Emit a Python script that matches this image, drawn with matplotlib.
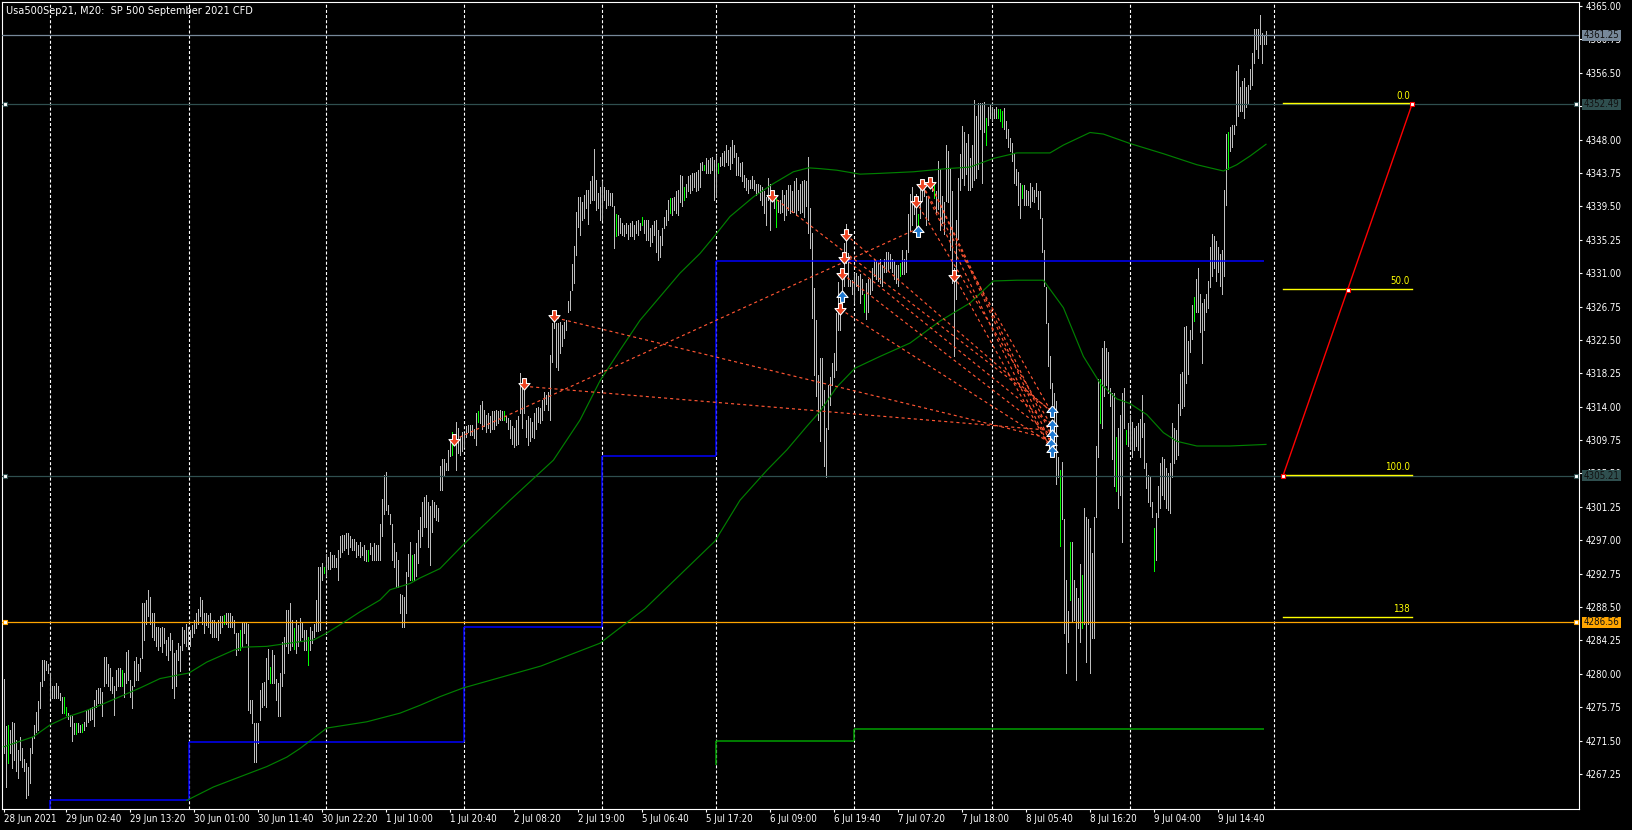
import matplotlib
matplotlib.use("Agg")
import matplotlib.pyplot as plt
from matplotlib.path import Path
from matplotlib.patches import Rectangle
from matplotlib.transforms import blended_transform_factory
from matplotlib import font_manager as fm
import numpy as np

# ---------------- data ----------------
TITLE = "Usa500Sep21, M20:  SP 500 September 2021 CFD"

bar_high = [
4279.4,4273.3,4273.5,4272.8,4273.9,4273.7,4271.6,4270.3,4272.0,4270.5,
4269.2,4268.6,4268.2,4270.5,4272.0,4273.5,4275.2,4276.5,4279.0,4281.8,
4281.8,4281.6,4281.3,4280.1,4278.4,4278.4,4278.8,4278.4,4277.5,4277.1,
4277.1,4275.8,4275.0,4274.8,4274.6,4273.7,4273.7,4273.7,4273.5,4273.6,
4273.9,4275.4,4275.4,4275.6,4275.8,4276.7,4277.9,4278.2,4278.2,4277.7,
4282.2,4282.2,4281.3,4280.7,4279.6,4278.4,4280.5,4280.7,4280.7,4280.5,
4280.1,4282.8,4283.0,4279.2,4278.4,4281.6,4282.2,4281.3,4282.0,4289.0,
4289.0,4289.4,4290.7,4289.8,4287.7,4287.7,4286.0,4286.0,4285.8,4286.0,
4285.8,4284.3,4284.7,4285.2,4284.3,4282.6,4283.0,4283.9,4283.5,4286.0,
4285.6,4286.4,4286.0,4285.6,4286.2,4286.9,4287.7,4288.3,4289.8,4289.4,
4287.7,4287.7,4287.5,4287.7,4286.9,4286.9,4286.6,4286.9,4287.3,4287.3,
4287.5,4287.7,4287.7,4287.7,4287.3,4286.9,4285.2,4285.2,4285.6,4286.6,
4286.6,4286.6,4286.4,4276.7,4276.7,4273.7,4273.7,4273.7,4277.9,4278.8,
4279.0,4282.0,4283.2,4280.9,4283.0,4282.4,4279.4,4278.8,4280.1,4284.1,
4284.7,4288.1,4288.1,4289.0,4286.9,4285.8,4286.9,4286.2,4287.1,4286.6,
4285.6,4285.6,4284.7,4286.0,4285.4,4286.4,4289.4,4293.6,4293.6,4294.1,
4293.6,4295.3,4294.9,4295.5,4295.1,4295.1,4294.7,4295.8,4297.5,4297.7,
4297.7,4297.9,4297.9,4297.5,4297.2,4297.2,4296.8,4296.4,4296.8,4296.2,
4296.4,4295.8,4295.8,4296.6,4296.2,4296.6,4296.4,4296.4,4299.1,4302.3,
4305.3,4305.7,4301.5,4300.4,4299.1,4296.6,4295.5,4294.5,4290.2,4290.0,
4289.8,4293.0,4295.3,4296.8,4295.1,4295.3,4296.6,4298.3,4300.0,4301.9,
4302.5,4302.8,4301.9,4301.3,4302.1,4301.9,4301.5,4301.1,4306.4,4307.4,
4307.4,4306.8,4308.5,4309.8,4310.8,4310.0,4312.1,4311.3,4310.2,4310.8,
4310.6,4311.5,4311.7,4311.7,4311.7,4311.1,4313.2,4313.4,4314.2,4314.7,
4313.6,4313.0,4313.2,4312.8,4313.4,4313.4,4313.6,4313.4,4313.6,4313.4,
4313.4,4312.8,4312.5,4312.3,4311.5,4311.3,4312.3,4312.8,4318.3,4317.0,
4317.0,4312.3,4312.8,4312.5,4312.1,4313.2,4313.8,4314.0,4313.8,4314.9,
4315.9,4315.5,4315.9,4320.6,4324.6,4325.5,4324.6,4324.6,4324.8,4324.4,
4324.8,4325.0,4327.4,4328.7,4332.1,4334.4,4338.8,4340.7,4340.7,4340.1,
4341.0,4341.6,4341.6,4342.7,4343.3,4346.8,4342.9,4341.2,4342.0,4342.7,
4342.0,4341.6,4341.6,4341.2,4341.2,4339.5,4338.5,4338.4,4338.0,4337.4,
4337.1,4337.4,4337.1,4337.4,4337.6,4337.1,4337.6,4337.8,4337.4,4338.2,
4337.8,4337.8,4337.8,4336.7,4337.1,4337.6,4337.8,4336.5,4335.7,4336.7,
4338.2,4339.0,4340.3,4340.5,4340.5,4340.7,4341.4,4341.6,4343.5,4343.3,
4342.0,4342.4,4343.3,4343.5,4343.7,4343.7,4343.9,4344.1,4345.0,4345.2,
4344.8,4345.6,4345.4,4345.6,4345.8,4345.4,4346.0,4345.0,4345.8,4346.3,
4346.5,4347.3,4346.7,4347.1,4348.0,4347.3,4346.3,4345.8,4345.0,4345.2,
4343.5,4343.1,4342.9,4342.9,4343.3,4342.9,4342.4,4342.4,4342.2,4342.0,
4341.4,4340.7,4343.1,4342.4,4341.4,4341.0,4341.0,4340.3,4340.3,4341.6,
4341.0,4341.6,4342.2,4342.2,4341.4,4342.7,4343.1,4341.6,4342.4,4342.7,
4342.9,4342.7,4345.8,4339.3,4336.1,4329.1,4325.0,4318.0,4320.2,4320.2,
4316.1,4311.3,4316.8,4317.8,4319.5,4320.8,4325.9,4329.9,4326.3,4330.1,
4334.8,4337.3,4333.5,4330.1,4330.1,4331.0,4331.0,4330.6,4330.9,4330.3,
4328.3,4329.7,4330.3,4330.3,4331.7,4332.8,4332.6,4332.3,4332.8,4332.0,
4332.8,4333.7,4333.7,4333.4,4332.8,4332.6,4332.0,4332.0,4332.3,4334.0,
4332.8,4334.0,4338.5,4341.1,4341.9,4340.8,4341.1,4338.5,4342.5,4342.5,
4342.5,4340.8,4340.5,4343.1,4342.5,4342.5,4341.4,4345.3,4344.2,4340.8,
4340.0,4347.3,4346.5,4344.2,4341.4,4331.7,4337.7,4343.1,4346.2,4349.7,
4349.0,4347.6,4348.7,4345.6,4347.3,4353.0,4351.0,4352.7,4352.7,4352.7,
4352.8,4350.7,4352.1,4352.4,4352.1,4351.9,4352.1,4351.9,4351.9,4351.6,
4352.0,4350.4,4349.3,4348.2,4347.6,4346.2,4344.2,4343.9,4342.5,4342.2,
4342.2,4341.6,4341.4,4342.5,4341.9,4341.6,4342.5,4341.4,4341.4,4338.0,
4334.0,4329.2,4324.6,4320.4,4317.0,4315.8,4314.7,4307.6,4305.9,4307.0,
4299.7,4292.0,4288.0,4296.8,4296.8,4292.0,4290.9,4289.7,4294.0,4292.6,
4301.1,4300.0,4299.7,4298.5,4295.4,4300.0,4309.0,4317.5,4317.5,4321.5,
4322.4,4321.5,4321.0,4316.4,4315.8,4315.8,4310.2,4311.3,4313.0,4315.8,
4316.4,4311.0,4311.9,4313.0,4312.1,4311.3,4311.6,4311.9,4312.4,4315.5,
4311.9,4306.8,4305.3,4305.0,4301.9,4298.5,4300.5,4303.9,4306.8,4307.6,
4307.3,4306.2,4305.6,4306.8,4311.9,4311.3,4311.0,4314.4,4318.1,4318.4,
4324.1,4324.3,4322.4,4323.8,4326.9,4328.0,4330.3,4331.7,4328.3,4327.2,
4327.7,4328.3,4330.0,4334.3,4336.0,4335.7,4335.1,4334.3,4333.4,4334.0,
4341.6,4348.7,4349.0,4349.6,4349.9,4349.9,4356.7,4357.5,4354.7,4355.5,
4355.8,4354.7,4355.0,4357.0,4359.0,4362.1,4362.1,4362.1,4363.8,4361.5,
4361.2,4361.8]

bar_low = [
4269.9,4265.6,4268.6,4269.9,4268.0,4269.0,4267.6,4266.7,4269.0,4268.2,
4267.6,4264.2,4264.6,4266.1,4269.9,4271.8,4272.6,4272.8,4275.6,4278.4,
4279.2,4280.5,4280.1,4276.9,4276.9,4276.9,4276.9,4276.9,4276.7,4275.0,
4275.0,4274.8,4274.3,4273.3,4271.4,4272.4,4272.4,4272.6,4272.6,4272.6,
4272.8,4273.3,4273.9,4274.1,4274.3,4273.3,4275.8,4276.3,4276.3,4274.6,
4278.4,4278.8,4278.4,4278.0,4277.5,4274.8,4278.0,4278.4,4278.4,4278.4,
4277.1,4278.8,4279.2,4277.1,4275.6,4278.4,4279.2,4279.2,4280.3,4282.0,
4284.3,4286.4,4287.3,4286.4,4284.7,4284.3,4283.5,4283.0,4283.5,4282.8,
4283.9,4282.4,4281.8,4283.0,4278.2,4276.9,4278.4,4281.8,4280.3,4283.0,
4283.9,4283.5,4283.2,4283.5,4284.7,4285.2,4285.8,4286.4,4287.3,4286.4,
4285.2,4286.2,4286.0,4285.2,4284.7,4284.7,4284.7,4284.3,4285.2,4286.0,
4286.4,4286.4,4286.0,4286.0,4286.0,4285.2,4282.4,4283.0,4283.0,4283.5,
4285.2,4283.9,4275.4,4275.0,4273.7,4268.8,4268.8,4271.2,4274.1,4275.8,
4276.0,4275.8,4279.4,4278.8,4278.8,4278.8,4276.7,4274.6,4274.6,4278.4,
4280.1,4283.5,4282.6,4283.0,4283.5,4283.2,4282.6,4283.5,4284.3,4284.7,
4283.0,4283.0,4281.1,4283.0,4283.9,4284.7,4285.4,4285.4,4285.6,4291.9,
4292.8,4292.4,4293.4,4293.4,4293.6,4293.6,4293.6,4291.9,4294.9,4295.5,
4295.8,4296.0,4295.3,4296.2,4295.8,4295.8,4294.9,4295.1,4294.9,4295.1,
4294.5,4294.3,4294.3,4295.3,4294.5,4294.5,4294.5,4294.5,4294.5,4297.5,
4300.4,4300.8,4300.4,4299.1,4294.5,4293.6,4291.1,4291.1,4287.7,4286.0,
4286.0,4287.7,4292.4,4291.9,4291.9,4291.9,4292.4,4294.1,4296.2,4297.5,
4298.7,4298.7,4296.2,4293.9,4298.1,4300.0,4299.6,4299.4,4303.4,4303.4,
4305.3,4306.0,4306.0,4307.7,4307.9,4309.1,4306.0,4308.1,4307.9,4308.3,
4308.9,4310.2,4310.8,4310.4,4310.4,4310.0,4309.1,4312.1,4311.9,4311.1,
4311.5,4310.8,4311.3,4310.8,4311.1,4311.1,4311.7,4311.9,4312.3,4312.3,
4312.3,4312.1,4311.1,4310.0,4309.3,4308.9,4309.1,4309.3,4313.2,4311.3,
4313.2,4310.2,4309.1,4309.6,4310.2,4310.0,4311.1,4312.1,4311.9,4312.3,
4313.6,4314.4,4313.6,4312.3,4319.7,4324.0,4319.1,4318.7,4320.8,4321.7,
4322.7,4323.8,4326.1,4326.3,4328.9,4329.7,4333.3,4336.9,4335.9,4337.8,
4338.0,4339.3,4337.3,4339.9,4340.3,4340.3,4339.0,4339.3,4337.8,4337.8,
4340.3,4339.3,4339.7,4339.7,4339.5,4334.2,4335.7,4335.9,4336.1,4335.9,
4335.7,4336.1,4335.4,4335.7,4335.7,4335.4,4336.1,4335.9,4336.5,4337.1,
4336.1,4335.2,4335.2,4334.4,4335.0,4335.9,4333.7,4332.7,4333.1,4334.6,
4336.7,4337.1,4337.8,4338.6,4338.4,4339.0,4338.6,4338.4,4340.1,4339.5,
4340.3,4340.7,4341.4,4341.2,4341.6,4342.0,4341.4,4341.6,4342.0,4344.1,
4344.1,4343.7,4343.7,4343.7,4344.1,4340.3,4340.7,4343.7,4344.6,4344.8,
4344.6,4345.2,4344.8,4344.3,4345.0,4345.8,4343.5,4343.5,4343.3,4342.7,
4342.0,4341.6,4341.2,4341.8,4341.8,4341.6,4341.0,4341.2,4340.3,4339.7,
4338.6,4337.1,4340.3,4336.5,4340.3,4339.3,4336.9,4338.8,4338.6,4338.8,
4337.8,4338.4,4339.0,4338.6,4338.8,4338.8,4338.4,4339.0,4338.6,4338.8,
4338.2,4339.5,4336.1,4334.2,4325.3,4318.0,4315.3,4312.3,4309.6,4314.2,
4306.4,4305.1,4311.1,4314.2,4316.8,4317.8,4318.7,4323.8,4323.8,4327.4,
4329.3,4332.3,4329.3,4329.3,4328.4,4327.2,4329.3,4328.9,4327.2,4328.3,
4326.0,4325.2,4326.0,4328.3,4328.9,4330.6,4330.3,4330.0,4329.7,4329.4,
4331.2,4331.2,4331.4,4331.7,4331.2,4330.3,4329.7,4329.4,4330.6,4330.9,
4330.9,4331.2,4333.7,4336.3,4337.1,4338.5,4336.8,4336.8,4338.0,4340.2,
4340.8,4337.1,4337.7,4342.2,4341.4,4340.5,4338.8,4339.1,4336.5,4337.4,
4336.0,4340.2,4340.0,4334.0,4329.7,4320.4,4327.7,4335.4,4341.6,4343.1,
4342.2,4343.6,4341.6,4341.6,4341.9,4342.8,4343.1,4344.2,4349.3,4342.5,
4349.0,4347.3,4349.9,4350.7,4350.4,4350.7,4350.7,4350.7,4350.4,4349.6,
4349.3,4348.2,4347.0,4346.5,4345.3,4342.5,4342.2,4339.7,4338.0,4340.5,
4339.7,4339.7,4339.7,4339.4,4340.2,4340.0,4340.8,4339.1,4338.0,4333.7,
4329.4,4324.6,4319.2,4316.4,4314.4,4309.0,4304.2,4305.0,4296.3,4299.7,
4285.2,4280.1,4284.1,4289.4,4286.6,4286.9,4279.2,4285.8,4284.1,4285.8,
4286.3,4281.5,4286.3,4280.1,4284.6,4284.6,4300.0,4307.6,4311.9,4311.3,
4315.3,4316.7,4315.8,4314.1,4307.3,4303.9,4303.3,4301.1,4302.8,4296.8,
4311.3,4309.3,4309.0,4308.7,4307.6,4308.5,4309.0,4308.5,4307.6,4310.2,
4306.2,4303.6,4301.9,4301.4,4299.9,4293.1,4294.5,4299.9,4301.1,4302.8,
4302.2,4301.1,4300.8,4300.5,4305.0,4306.8,4307.3,4307.9,4313.0,4313.8,
4314.1,4317.0,4318.1,4321.0,4322.6,4324.9,4326.0,4326.0,4323.5,4319.5,
4323.8,4326.0,4326.6,4329.2,4330.6,4331.7,4330.0,4331.2,4329.4,4328.3,
4330.6,4339.7,4344.2,4346.5,4347.0,4348.7,4349.9,4351.0,4351.6,4351.6,
4350.7,4352.1,4352.7,4354.4,4355.0,4357.8,4359.5,4358.4,4360.1,4357.8,
4360.1,4360.1]

green_bars = [2, 30, 31, 36, 39, 59, 110, 118, 133, 145, 152, 160, 182, 204,
              224, 237, 250, 306, 319, 333, 340, 350, 357, 386, 430, 448, 457,
              465, 491, 497, 498, 499, 509, 528, 533, 539, 548, 556, 561, 575,
              595, 612]

# moving averages (bar index, price)
ma_fast_bar = [-0.3, 14.7, 23, 31.4, 39.7, 48, 58, 68, 78, 88, 92.4, 101.4, 114.7,
               119.7, 131.4, 139.7, 148, 154.7, 161.4, 171.4, 178, 188, 193, 203,
               208, 218, 229.5, 253, 274.7, 288, 298, 308, 318, 328, 338, 348,
               355.5, 363, 374.7, 384.7, 394.7, 402.2, 408, 416.4, 428, 438,
               454.7, 471.4, 483, 494.7, 506.4, 523, 529.7, 543, 549.7, 563,
               579.7, 596.4, 609.7, 616.4, 623, 631]
ma_fast_val = [4270.7, 4272.0, 4273.5, 4274.5, 4275.2, 4276.0, 4277.1, 4278.2,
               4279.4, 4279.9, 4280.1, 4281.5, 4283.0, 4283.4, 4283.5, 4283.8,
               4284.1, 4284.3, 4285.2, 4286.8, 4287.9, 4289.4, 4290.7, 4291.5,
               4292.2, 4293.4, 4296.4, 4302.1, 4307.2, 4312.3, 4317.3, 4321.2,
               4325.0, 4328.0, 4331.0, 4333.5, 4335.8, 4338.2, 4340.7, 4342.4,
               4343.9, 4344.4, 4344.3, 4344.1, 4343.6, 4343.7, 4343.9, 4344.3,
               4344.5, 4345.6, 4346.3, 4346.3, 4347.3, 4348.9, 4348.7, 4347.5,
               4346.2, 4344.8, 4344.0, 4344.8, 4345.9, 4347.4]
ma_slow_bar = [91.4, 104.7, 118, 131.4, 141.4, 148, 154.7, 161.4, 181.4, 198, 208,
               218, 229.5, 268.5, 298, 320.5, 355.5, 368, 381.4, 391.4, 401.4,
               408, 416.4, 425.5, 438, 453, 468, 483, 494.7, 506.4, 519.7, 529.7,
               539.7, 548, 556.4, 563, 571.4, 579.7, 586.4, 596.4, 613, 631]
ma_slow_val = [4263.9, 4265.6, 4266.9, 4268.2, 4269.4, 4270.5, 4271.8, 4273.1,
               4273.9, 4275.0, 4276.0, 4277.1, 4278.2, 4281.0, 4283.9, 4288.3,
               4296.9, 4302.1, 4305.9, 4308.5, 4311.5, 4313.4, 4316.5, 4318.9,
               4320.4, 4322.1, 4324.9, 4327.2, 4330.0, 4330.1, 4330.1, 4326.6,
               4320.4, 4317.0, 4315.0, 4314.4, 4313.0, 4310.7, 4309.6, 4309.0,
               4309.0, 4309.2]

# daily level step lines
blue_start = [23.2, 92.3, 230.2, 299.2, 356.2]
blue_end = [92.3, 230.2, 299.2, 356.2, 630]
blue_price = [4264.0, 4271.3, 4285.9, 4307.7, 4332.5]
green_start = [356.2, 425.2]
green_end = [425.2, 630]
green_price = [4271.5, 4273.0]
green_first_from = 4268.4

# day separators (bar positions)
day_sep = [23.2, 92.3, 161.2, 230.2, 299.2, 356.2, 425.2, 494.2, 563.2, 635.2]

# horizontal price lines
bid_price = 4361.25
hline_prices = [4352.49, 4305.21, 4286.56]
hline_colors = ['#2F4F4F', '#2F4F4F', '#FFA500']

# signal arrows (bar, price)
down_bar = [225, 260.2, 275.2, 384.2, 421, 420.2, 419.2, 418.2, 456, 459.2, 463, 475.2]
down_val = [4309.8, 4316.9, 4325.5, 4340.8, 4335.8, 4332.9, 4330.9, 4326.4,
            4340.1, 4342.2, 4342.5, 4330.6]
up_bar = [419.2, 457.2, 523.9, 523.9, 523.9, 523.4, 524.2]
up_val = [4328.1, 4336.4, 4313.5, 4311.7, 4310.4, 4309.3, 4308.4]

# dashed signal lines (bar0, price0, bar1, price1)
tl_b0 = [260, 276, 225, 384, 421, 420.2, 419.2, 418.2, 456, 459.2, 463, 463, 475.2, 459.2]
tl_p0 = [4316.6, 4325.3, 4309.8, 4340.8, 4335.9, 4332.9, 4330.9, 4326.4, 4340.1,
         4342.2, 4342.5, 4342.5, 4330.6, 4342.2]
tl_b1 = [523, 523.5, 457, 523, 523.5, 523.5, 523.5, 523.5, 523.5, 523.5, 523.5,
         523.5, 523.5, 523.5]
tl_p1 = [4311.0, 4309.9, 4336.7, 4313.6, 4313.4, 4311.7, 4310.4, 4309.3, 4311.7,
         4313.4, 4310.4, 4309.3, 4308.5, 4308.5]

# fibonacci retracement
fib_bar0 = 639.5
fib_bar1 = 704
fib_p100 = 4305.21
fib_p0 = 4352.49
fib_levels = [0.0, 50.0, 100.0, 138.2]
fib_labels = ['0.0', '50.0', '100.0', '138']

# axes
x_tick_bars = [0, 31, 63, 95, 127, 159, 191, 223, 255, 287, 319, 351, 383, 415,
               447, 479, 511, 543, 575, 607]
x_tick_labels = ['28 Jun 2021', '29 Jun 02:40', '29 Jun 13:20', '30 Jun 01:00',
                 '30 Jun 11:40', '30 Jun 22:20', '1 Jul 10:00', '1 Jul 20:40',
                 '2 Jul 08:20', '2 Jul 19:00', '5 Jul 06:40', '5 Jul 17:20',
                 '6 Jul 09:00', '6 Jul 19:40', '7 Jul 07:20', '7 Jul 18:00',
                 '8 Jul 05:40', '8 Jul 16:20', '9 Jul 04:00', '9 Jul 14:40']
y_ticks = [4365.00, 4360.75, 4356.50, 4352.25, 4348.00, 4343.75, 4339.50,
           4335.25, 4331.00, 4326.75, 4322.50, 4318.25, 4314.00, 4309.75,
           4305.50, 4301.25, 4297.00, 4292.75, 4288.50, 4284.25, 4280.00,
           4275.75, 4271.50, 4267.25]

# ---------------- style ----------------
names = {f.name for f in fm.fontManager.ttflist}
condensed = any(f.name == 'DejaVu Sans' and 'ondensed' in f.fname
                for f in fm.fontManager.ttflist)
if 'Liberation Sans Narrow' in names:
    plt.rcParams['font.family'] = ['Liberation Sans Narrow', 'DejaVu Sans']
    FS = 8
elif condensed:
    plt.rcParams['font.family'] = ['DejaVu Sans']
    plt.rcParams['font.stretch'] = 'condensed'
    FS = 7
else:
    plt.rcParams['font.family'] = ['DejaVu Sans']
    FS = 6.5
plt.rcParams['lines.scale_dashes'] = False

W, H = 1632, 830
fig = plt.figure(figsize=(W / 100, H / 100), dpi=100, facecolor='black')
ax = fig.add_axes([2.3 / W, 21 / H, 1577 / W, 806.7 / H])
ax.set_facecolor('black')
ax.set_xlim(-0.85, 787.65)
ax.set_ylim(4262.80, 4365.47)
for s in ax.spines.values():
    s.set_color('white')
    s.set_linewidth(0.8)

# day separators
for d in day_sep:
    ax.axvline(d, color='white', lw=0.8, linestyle=(0, (2.2, 1.5)), zorder=1)

# bars (1 px wide)
n = min(len(bar_high), len(bar_low))
idx = np.arange(n)
gset = set(green_bars)
cols = ['#00FF00' if i in gset else '#BEBEBE' for i in range(n)]
ax.vlines(idx, bar_low[:n], bar_high[:n], colors=cols, linewidth=0.72,
          antialiased=False, zorder=3)

# horizontal lines
ax.axhline(bid_price, color='#778899', lw=0.9, zorder=4)
for p, c in zip(hline_prices, hline_colors):
    ax.axhline(p, color=c, lw=0.9, zorder=4)
    ax.plot([0.65, 786], [p, p], 's', ms=3.2, mfc='white', mec=c, mew=0.8,
            zorder=5, clip_on=False)

# step lines
ax.vlines([blue_start[0]], [4262.0], [blue_price[0]], colors='#0000FF', lw=1.1, zorder=4)
ax.hlines(blue_price, blue_start, blue_end, colors='#0000FF', lw=1.1, zorder=4)
for k in range(1, len(blue_price)):
    ax.vlines([blue_start[k]], [blue_price[k - 1]], [blue_price[k]],
              colors='#0000FF', lw=1.1, zorder=4)
ax.vlines([green_start[0]], [green_first_from], [green_price[0]], colors='#00A000', lw=1.1, zorder=4)
ax.hlines(green_price, green_start, green_end, colors='#00A000', lw=1.1, zorder=4)
for k in range(1, len(green_price)):
    ax.vlines([green_start[k]], [green_price[k - 1]], [green_price[k]],
              colors='#00A000', lw=1.1, zorder=4)

# moving averages
ax.plot(ma_fast_bar, ma_fast_val, color='#008000', lw=0.85, zorder=4)
ax.plot(ma_slow_bar, ma_slow_val, color='#008000', lw=0.85, zorder=4)

# dashed signal lines
for b0, p0, b1, p1 in zip(tl_b0, tl_p0, tl_b1, tl_p1):
    ax.plot([b0, b1], [p0, p1], color='#FF5533', lw=0.85,
            linestyle=(0, (2.2, 2.2)), zorder=5)

# arrows
down_arrow = Path([(-0.3, 0.9), (0.3, 0.9), (0.3, 0.15), (0.85, 0.15), (0, -0.85),
                   (-0.85, 0.15), (-0.3, 0.15), (-0.3, 0.9)],
                  [Path.MOVETO] + [Path.LINETO] * 6 + [Path.CLOSEPOLY])
up_arrow = Path([(x, -y) for x, y in down_arrow.vertices], down_arrow.codes)
ax.plot(down_bar, down_val, linestyle='none', marker=down_arrow, ms=8.5,
        mfc='#EE4422', mec='white', mew=0.8, zorder=6)
ax.plot(up_bar, up_val, linestyle='none', marker=up_arrow, ms=8.5,
        mfc='#1E78D0', mec='white', mew=0.8, zorder=6)

# fibonacci
for lv, lab in zip(fib_levels, fib_labels):
    p = fib_p0 + (fib_p100 - fib_p0) * lv / 100.0
    ax.plot([fib_bar0, fib_bar1], [p + 0.15, p + 0.15], color='#FFFF00', lw=1.0, zorder=6)
    ax.text(fib_bar1 - 1, p + 0.45, lab, color='#FFFF00', fontsize=FS,
            ha='right', va='bottom', zorder=7)
ax.plot([fib_bar0, fib_bar1], [fib_p100, fib_p0], color='#FF0000', lw=1.0, zorder=7)
ax.plot([fib_bar0, (fib_bar0 + fib_bar1) / 2, fib_bar1],
        [fib_p100, (fib_p100 + fib_p0) / 2, fib_p0], 's', ms=3.2,
        mfc='white', mec='#FF0000', mew=0.8, zorder=8)

# axes ticks
ax.set_xticks(x_tick_bars)
ax.set_xticklabels(x_tick_labels, ha='left', fontsize=FS, color='white')
ax.tick_params(axis='x', length=2.2, width=0.8, colors='white', direction='out', pad=1.5)
ax.yaxis.tick_right()
ax.set_yticks(y_ticks)
ax.set_yticklabels([f'{v:.2f}' for v in y_ticks], fontsize=FS, color='white')
ax.tick_params(axis='y', length=2.2, width=0.8, colors='white', direction='out', pad=2)

# price tags on the right
tr = blended_transform_factory(ax.transAxes, ax.transData)
tag_prices = [bid_price] + hline_prices
tag_colors = ['#778899'] + hline_colors
for p, c in zip(tag_prices, tag_colors):
    ax.add_patch(Rectangle((1.0017, p - 0.72), 39 / 1577, 1.44, transform=tr,
                           facecolor=c, edgecolor='none', clip_on=False, zorder=20))
    ax.text(1.0017 + 2 / 1577, p, f'{p:.2f}', transform=tr, color='#111111',
            fontsize=FS, ha='left', va='center', clip_on=False, zorder=21)

fig.text(6.5 / W, 1 - 13.5 / H, TITLE, color='white', fontsize=FS + 0.8,
         ha='left', va='baseline')

fig.savefig('out.png', dpi=100, facecolor='black')
